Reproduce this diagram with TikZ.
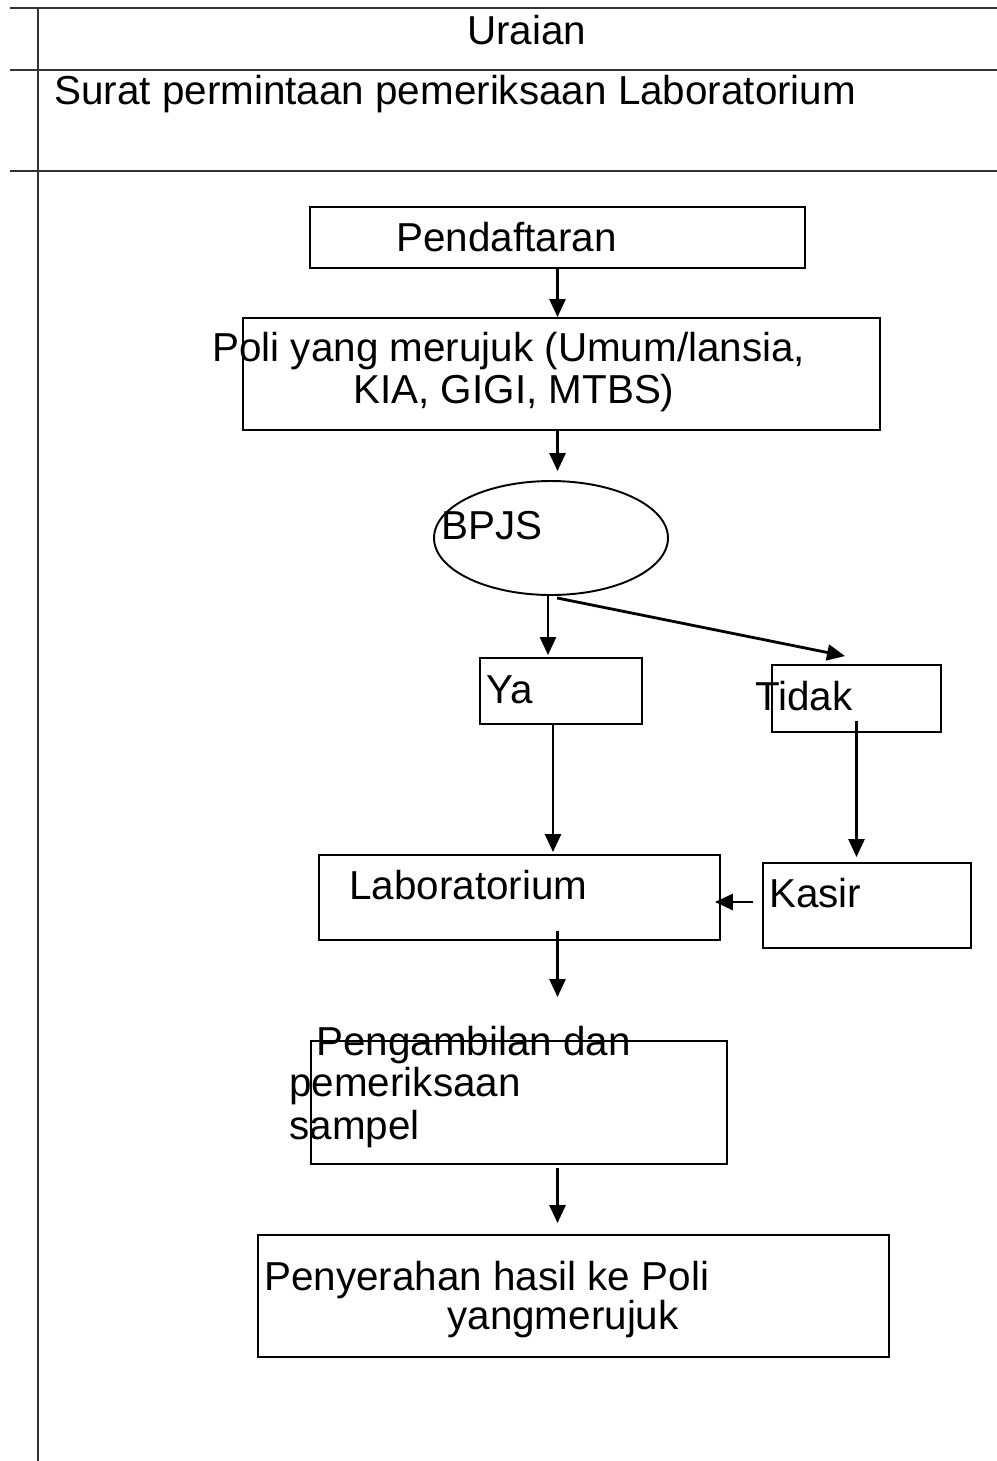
\documentclass[tikz,border=0pt]{standalone}
\usepackage{fontspec}
\setmainfont{Liberation Sans}
\usetikzlibrary{arrows.meta,shapes.geometric,calc}
\tikzset{
    box/.style =    {rectangle,
                    draw=black,
                    line width=1.1pt,
                    inner sep=0pt},
    oval/.style =   {ellipse,
                    draw=black,
                    line width=1.1pt,
                    inner sep=0pt},
    txt/.style =    {anchor=base west,
                    inner sep=0pt,
                    font=\fontsize{23}{27}\selectfont},
    rule/.style =   {draw=black!80,
                    line width=0.9pt},
    arr/.style =    {line width=1.6pt,
                    -{Triangle[length=0.36cm,width=0.32cm]}}
}
\begin{document}
\begin{tikzpicture}[x=0.02cm,y=-0.02cm]
                \useasboundingbox (0,0) rectangle (997,1461);
                % table rules
                \draw [rule] (10,8) -- (997,8);
                \draw [rule] (10,70) -- (997,70);
                \draw [rule] (10,171) -- (997,171);
                \draw [rule] (38,8) -- (38,1461);
                \node[txt]          (uraian) at (467,44)        {Uraian};
                \node[txt]          (surat)  at (54,104)        {Surat permintaan pemeriksaan Laboratorium};

                % boxes
                \node[box,minimum width=9.9cm,minimum height=1.22cm]    (Pend)  at (557.5,237.5) {};
                \node[box,minimum width=12.74cm,minimum height=2.24cm]  (Poli)  at (561.5,374)   {};
                \node[oval,minimum width=4.68cm,minimum height=2.28cm]  (BPJS)  at (551,538)     {};
                \node[box,minimum width=3.24cm,minimum height=1.32cm]   (Ya)    at (561,691)     {};
                \node[box,minimum width=3.38cm,minimum height=1.34cm]   (Tidak) at (856.5,698.5) {};
                \node[box,minimum width=8.02cm,minimum height=1.7cm]    (Lab)   at (519.5,897.5) {};
                \node[box,minimum width=4.16cm,minimum height=1.7cm]    (Kasir) at (867,905.5)   {};
                \node[box,minimum width=8.32cm,minimum height=2.46cm]   (Peng)  at (519,1102.5)  {};
                \node[box,minimum width=12.62cm,minimum height=2.44cm]  (Peny)  at (573.5,1296)  {};

                % texts
                \node[txt]          (tPend)  at (396,251)       {Pendaftaran};
                \node[txt]          (tPoliA) at (212,361)       {Poli yang merujuk (Umum/lansia,};
                \node[txt]          (tPoliB) at (353,403)       {KIA, GIGI, MTBS)};
                \node[txt]          (tBPJS)  at (441,539)       {BPJS};
                \node[txt]          (tYa)    at (486,703)       {Ya};
                \node[txt]          (tTidak) at (755,710)       {Tidak};
                \node[txt]          (tLab)   at (349,899)       {Laboratorium};
                \node[txt]          (tKasir) at (769,907)       {Kasir};
                \node[txt]          (tPengA) at (316,1055)      {Pengambilan dan};
                \node[txt]          (tPengB) at (289,1096)      {pemeriksaan};
                \node[txt]          (tPengC) at (289,1139)      {sampel};
                \node[txt]          (tPenyA) at (264,1290)      {Penyerahan hasil ke Poli};
                \node[txt]          (tPenyB) at (447,1329)      {yangmerujuk};

                \path [arr]     (Pend.south) edge []                        (Pend.south |- Poli.north)
                                (Poli.south -| Pend.south) edge [shorten >=0.18cm] (BPJS.north -| Pend.south)
                                ($(BPJS.south)+(-3,0)$) edge []             ($(BPJS.south |- Ya.north)+(-3,-2)$)
                                ($(BPJS.south)+(6,2)$) edge []              ($(Tidak.north)+(-11.5,-8)$)
                                ($(Ya.south)+(-8,0)$) edge []               ($(Ya.south |- Lab.north)+(-8,-2)$)
                                ($(Tidak.south)+(0,-12)$) edge []           ($(Tidak.south |- Kasir.north)+(0,-5)$)
                                ($(Kasir.west)+(-9,-3.5)$) edge []          ($(Kasir.west -| Lab.east)+(-6,-3.5)$)
                                ($(Lab.south -| Pend.south)+(0,-10)$) edge [] ($(Peng.north -| Pend.south)+(0,-43)$)
                                ($(Peng.south -| Pend.south)+(0,3)$) edge [] ($(Peny.north -| Pend.south)+(0,-11)$);
        \end{tikzpicture}
\end{document}
